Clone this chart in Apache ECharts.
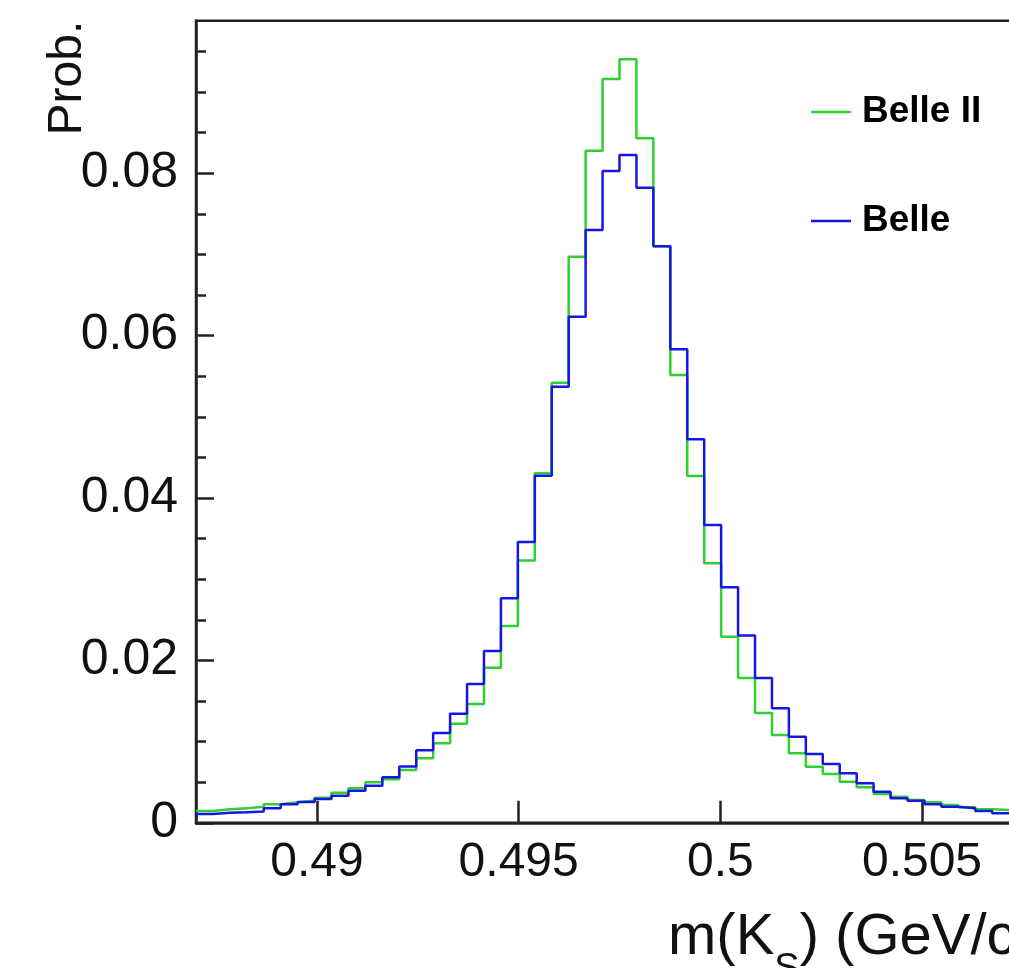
<!DOCTYPE html>
<html><head><meta charset="utf-8">
<script src="https://cdn.jsdelivr.net/npm/echarts@6/dist/echarts.min.js"></script>
<style>html,body{margin:0;padding:0;background:#fff;}#c{width:1009px;height:968px;}</style>
</head><body><div id="c"></div>
<script>
// ---- data ----
const xMin = 0.487, xMax = 0.508, binWidth = 0.00042;
const yMin = 0, yMax = 0.0988;
const xTickValues = [0.49, 0.495, 0.5, 0.505];
const xTickLabels = ['0.49', '0.495', '0.5', '0.505'];
const yTickValues = [0, 0.02, 0.04, 0.06, 0.08];
const yTickLabels = ['0', '0.02', '0.04', '0.06', '0.08'];
const yMinorTickValues = [0.005, 0.01, 0.015, 0.025, 0.03, 0.035, 0.045, 0.05, 0.055, 0.065, 0.07, 0.075, 0.085, 0.09, 0.095];
const seriesNames = ['Belle II', 'Belle'];
const belle2 = [0.00145,0.00166,0.00179,0.00198,0.00228,0.00252,0.00272,0.00309,0.00371,0.00425,
  0.00499,0.00536,0.00650,0.00794,0.00979,0.01221,0.01463,0.01910,0.02424,0.03231,
  0.04305,0.05421,0.06973,0.08278,0.09161,0.09404,0.08431,0.07101,0.05515,0.04271,
  0.03196,0.02292,0.01783,0.01352,0.01081,0.00856,0.00691,0.00601,0.00506,0.00437,
  0.00355,0.00321,0.00281,0.00252,0.00219,0.00191,0.00166,0.00158,0.00140,0.00130];
const belle = [0.00108,0.00124,0.00129,0.00139,0.00179,0.00228,0.00256,0.00293,0.00334,0.00395,
  0.00457,0.00560,0.00693,0.00893,0.01106,0.01344,0.01710,0.02116,0.02765,0.03459,
  0.04275,0.05371,0.06234,0.07301,0.08028,0.08225,0.07822,0.07101,0.05832,0.04724,
  0.03668,0.02901,0.02307,0.01783,0.01410,0.01060,0.00847,0.00724,0.00610,0.00487,
  0.00383,0.00302,0.00272,0.00228,0.00198,0.00179,0.00145,0.00117,0.00100,0.00090];

// ---- build ----
function histData(vals) {
  const d = vals.map((v, k) => [xMin + k * binWidth, v]);
  d.push([xMin + vals.length * binWidth, vals[vals.length - 1]]);
  return d;
}
function labelFor(values, labels) {
  return function (v) {
    for (let i = 0; i < values.length; i++) if (Math.abs(values[i] - v) < 1e-9) return labels[i];
    return '';
  };
}
const FONT = '"Liberation Sans", Arial, Helvetica, sans-serif';
const chart = echarts.init(document.getElementById('c'), null, { renderer: 'canvas' });
chart.setOption({
  animation: false,
  backgroundColor: '#ffffff',
  grid: { left: 196, top: 20.7, width: 847, height: 802.1, show: true, borderColor: '#222', borderWidth: 2.5, outerBoundsMode: 'none', containLabel: false },
  legend: {
    data: seriesNames, orient: 'vertical', left: 811, top: 92, icon: 'rect', padding: 0,
    itemWidth: 40, itemHeight: 2.5, itemGap: 69,
    textStyle: { fontFamily: FONT, fontWeight: 'bold', fontSize: 37, color: '#000', lineHeight: 40, padding: [0, 0, 0, 6] }
  },
  xAxis: {
    type: 'value', min: xMin, max: xMax,
    axisLine: { show: true, lineStyle: { color: '#222', width: 2.5 } },
    axisTick: { show: true, inside: true, length: 22, customValues: xTickValues, lineStyle: { color: '#222', width: 2.5 } },
    axisLabel: { show: true, customValues: xTickValues, formatter: labelFor(xTickValues, xTickLabels), fontFamily: FONT, fontSize: 48, color: '#111', margin: 16 },
    splitLine: { show: false },
    name: 'm(K{sub|S}) (GeV/c{sup|2})', nameLocation: 'end', nameGap: -375, nameMoveOverlap: false,
    nameTextStyle: {
      fontFamily: FONT, fontSize: 58, color: '#111', align: 'left', verticalAlign: 'top', padding: [86, 0, 0, 0],
      rich: { sub: { fontFamily: FONT, fontSize: 38, verticalAlign: 'bottom', padding: [0, 0, -22, 0], color: '#111' },
              sup: { fontFamily: FONT, fontSize: 38, verticalAlign: 'top', color: '#111' } }
    }
  },
  yAxis: [{
    type: 'value', min: yMin, max: yMax, position: 'left',
    axisLine: { show: true, lineStyle: { color: '#222', width: 2.5 } },
    axisTick: { show: true, inside: true, length: 18, customValues: yTickValues, lineStyle: { color: '#222', width: 2.5 } },
    axisLabel: { show: true, customValues: yTickValues, formatter: labelFor(yTickValues, yTickLabels), fontFamily: FONT, fontSize: 50, color: '#111', margin: 18 },
    splitLine: { show: false },
    name: 'Prob.', nameLocation: 'end', nameGap: 0, nameRotate: 90, nameMoveOverlap: false,
    nameTextStyle: { fontFamily: FONT, fontSize: 48, color: '#111', align: 'right', verticalAlign: 'bottom', padding: [0, 0, 104, 0] }
  }, {
    type: 'value', min: yMin, max: yMax, position: 'left',
    axisLine: { show: false },
    axisTick: { show: true, inside: true, length: 10, customValues: yMinorTickValues, lineStyle: { color: '#222', width: 2.5 } },
    axisLabel: { show: false }, splitLine: { show: false }
  }],
  series: [
    { name: seriesNames[0], type: 'line', step: 'end', data: histData(belle2), showSymbol: false, symbol: 'none',
      lineStyle: { color: '#30d030', width: 2.5 }, itemStyle: { color: '#30d030' } },
    { name: seriesNames[1], type: 'line', step: 'end', data: histData(belle), showSymbol: false, symbol: 'none',
      lineStyle: { color: '#1515e6', width: 2.5 }, itemStyle: { color: '#1515e6' } }
  ]
});
</script></body></html>
